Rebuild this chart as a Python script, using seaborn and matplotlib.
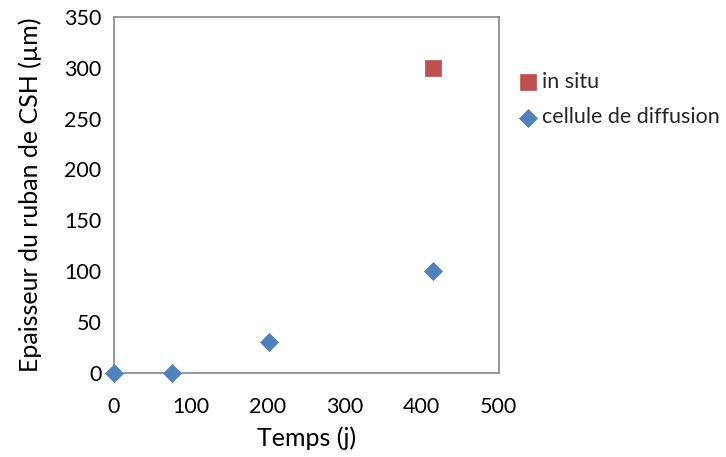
import matplotlib
matplotlib.use("Agg")
import matplotlib.pyplot as plt
import seaborn as sns
import pandas as pd

# ── Data ─────────────────────────────────────────────────────────────────────
series_names = ["in situ", "cellule de diffusion"]
in_situ_t = [415]
in_situ_e = [300]
diffusion_t = [0, 75, 202, 415]
diffusion_e = [0, 0, 30, 100]

df = pd.DataFrame({
    "t": in_situ_t + diffusion_t,
    "e": in_situ_e + diffusion_e,
    "serie": [series_names[0]] * len(in_situ_t) + [series_names[1]] * len(diffusion_t),
})

sns.set_theme(style="white")
plt.rcParams["font.family"] = ["Lato", "DejaVu Sans"]

fig = plt.figure(figsize=(7.26, 4.57), dpi=100)
ax = fig.add_axes([0.157, 0.184, 0.530, 0.779])

palette = {series_names[0]: "#C0504D", series_names[1]: "#4F81BD"}
markers = {series_names[0]: "s", series_names[1]: "D"}
sizes = {series_names[0]: 120, series_names[1]: 85}

for name in series_names:
    sub = df[df["serie"] == name]
    sns.scatterplot(data=sub, x="t", y="e", color=palette[name], marker=markers[name],
                    s=sizes[name], edgecolor=palette[name], linewidth=0.5,
                    label=name, ax=ax, zorder=3, clip_on=False)

ax.set_xlim(0, 500)
ax.set_ylim(0, 350)
ax.set_xticks(range(0, 501, 100))
ax.set_yticks(range(0, 351, 50))
ax.set_xlabel("Temps (j)", fontsize=18, color="#000000", labelpad=7)
ax.set_ylabel("Epaisseur du ruban de CSH (\u00b5m)", fontsize=18, color="#000000", labelpad=16)

for sp in ax.spines.values():
    sp.set_color("#868686")
    sp.set_linewidth(1.2)
ax.tick_params(axis="both", direction="in", length=6, width=1.2, color="#868686",
               labelsize=15.5, labelcolor="#000000", pad=9)
ax.tick_params(axis="x", pad=17)

leg = ax.legend(loc="upper left", bbox_to_anchor=(1.02, 0.87), frameon=False,
                fontsize=15.5, handletextpad=0.05, labelspacing=0.72,
                borderaxespad=0, handlelength=1.2)

plt.savefig("out.png", dpi=100)
plt.close()
